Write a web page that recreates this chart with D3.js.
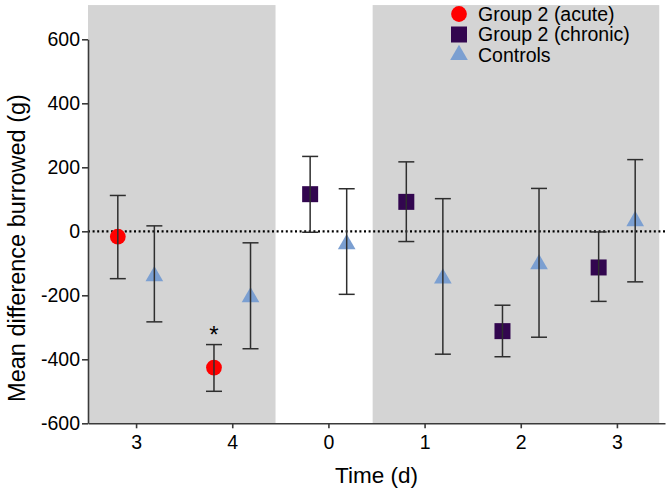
<!DOCTYPE html>
<html>
<head>
<meta charset="utf-8">
<script src="https://cdn.jsdelivr.net/npm/d3@7"></script>
<style>
  body { margin: 0; background: #fff; }
  svg text { font-family: "Liberation Sans", Arial, sans-serif; fill: #000; }
  .axis path, .axis line { stroke: #3a3a3a; stroke-width: 1.6; }
  .axis text { font-size: 19.5px; }
</style>
</head>
<body>
<svg id="chart" width="668" height="490"></svg>
<script>
// time points on the x axis (day labels)
var dayLabels = ["3", "4", "0", "1", "2", "3"];
var yTicks = [-600, -400, -200, 0, 200, 400, 600];

// [day index, mean, lower, upper]
var acute = [
  [0, -17, -148, 112],
  [1, -426, -500, -354]
];
var chronic = [
  [2, 116, -3, 234],
  [3, 92, -32, 217],
  [4, -312, -392, -231],
  [5, -113, -219, -2]
];
var controls = [
  [0, -140, -283, 17],
  [1, -206, -367, -36],
  [2, -40, -197, 133],
  [3, -147, -384, 102],
  [4, -103, -331, 134],
  [5, 32, -158, 224]
];
// shaded periods, in day-index units
var shaded = [[-0.5, 1.45], [2.46, 5.44]];
var shadeTop = 707;
// significance marks: [day index, value]
var stars = [[1, -354]];

var svg = d3.select("#chart");
var margin = {left: 88, right: 3, top: 39.3, bottom: 66.7};
var W = 668, H = 490;

var x = d3.scaleLinear().domain([-0.5, 5.5]).range([margin.left, W - margin.right]);
var y = d3.scaleLinear().domain([-600, 600]).range([H - margin.bottom, margin.top]);

var off = 0.19;

// grey backgrounds
svg.append("g").selectAll("rect")
  .data(shaded)
  .enter().append("rect")
    .attr("x", function(d) { return x(d[0]); })
    .attr("width", function(d) { return x(d[1]) - x(d[0]); })
    .attr("y", y(shadeTop))
    .attr("height", y(-600) - y(shadeTop))
    .attr("fill", "#d4d4d4");

// zero line
svg.append("line")
  .attr("x1", x(-0.5)).attr("x2", x(5.5))
  .attr("y1", y(0)).attr("y2", y(0))
  .attr("stroke", "#000")
  .attr("stroke-width", 2.2)
  .attr("stroke-dasharray", "2,2.6");

// axes
var xAxis = d3.axisBottom(x)
  .tickValues(d3.range(dayLabels.length))
  .tickFormat(function(d) { return dayLabels[d]; })
  .tickSizeInner(5).tickSizeOuter(0).tickPadding(7);
svg.append("g").attr("class", "axis")
  .attr("transform", "translate(0," + y(-600) + ")")
  .call(xAxis);

var yAxis = d3.axisLeft(y).tickValues(yTicks)
  .tickFormat(function(d) { return String(d); })
  .tickSizeInner(6).tickSizeOuter(0).tickPadding(2);
svg.append("g").attr("class", "axis")
  .attr("transform", "translate(" + margin.left + ",0)")
  .call(yAxis);

svg.selectAll(".axis text").attr("fill", "#000");

// axis titles
svg.append("text")
  .attr("x", (x(-0.5) + x(5.5)) / 2)
  .attr("y", 483)
  .attr("text-anchor", "middle")
  .style("font-size", "22.5px")
  .text("Time (d)");

svg.append("text")
  .attr("transform", "translate(25," + 248 + ") rotate(-90)")
  .attr("text-anchor", "middle")
  .style("font-size", "23.5px")
  .text("Mean difference burrowed (g)");

// markers
var sym = {
  circle: d3.symbol().type(d3.symbolCircle).size(195),
  square: d3.symbol().type(d3.symbolSquare).size(256),
  triangle: d3.symbol().type(d3.symbolTriangle).size(135)
};

var series = [
  {data: acute, dx: -off, shape: "circle", color: "#ff0000", label: "Group 2 (acute)"},
  {data: chronic, dx: -off, shape: "square", color: "#32064f", label: "Group 2 (chronic)"},
  {data: controls, dx: off, shape: "triangle", color: "#7b9fd1", label: "Controls"}
];

series.forEach(function(s) {
  var g = svg.append("g");
  g.selectAll("path.mark")
    .data(s.data)
    .enter().append("path")
      .attr("class", "mark")
      .attr("d", sym[s.shape])
      .attr("transform", function(d) {
        return "translate(" + x(d[0] + s.dx) + "," + y(d[1]) + ")";
      })
      .attr("fill", s.color);

  var eb = g.selectAll("g.err")
    .data(s.data)
    .enter().append("g")
      .attr("class", "err")
      .attr("stroke", "#2e2e2e")
      .attr("stroke-width", 1.5);
  eb.append("line")
    .attr("x1", function(d) { return x(d[0] + s.dx); })
    .attr("x2", function(d) { return x(d[0] + s.dx); })
    .attr("y1", function(d) { return y(d[2]); })
    .attr("y2", function(d) { return y(d[3]); });
  [2, 3].forEach(function(k) {
    eb.append("line")
      .attr("x1", function(d) { return x(d[0] + s.dx) - 8; })
      .attr("x2", function(d) { return x(d[0] + s.dx) + 8; })
      .attr("y1", function(d) { return y(d[k]); })
      .attr("y2", function(d) { return y(d[k]); });
  });
});

// stars
svg.selectAll("text.star")
  .data(stars)
  .enter().append("text")
    .attr("class", "star")
    .attr("x", function(d) { return x(d[0] - off); })
    .attr("y", function(d) { return y(d[1]) - 2; })
    .attr("text-anchor", "middle")
    .style("font-size", "24px")
    .text("*");

// legend
var legend = svg.append("g").attr("transform", "translate(459,14)");
var rows = legend.selectAll("g")
  .data(series)
  .enter().append("g")
    .attr("transform", function(d, i) { return "translate(0," + (i * 20.5) + ")"; });
rows.append("path")
  .attr("d", function(d) { return sym[d.shape](); })
  .attr("fill", function(d) { return d.color; });
rows.append("text")
  .attr("x", 19)
  .attr("dy", "0.35em")
  .style("font-size", "19.5px")
  .text(function(d) { return d.label; });
</script>
</body>
</html>
